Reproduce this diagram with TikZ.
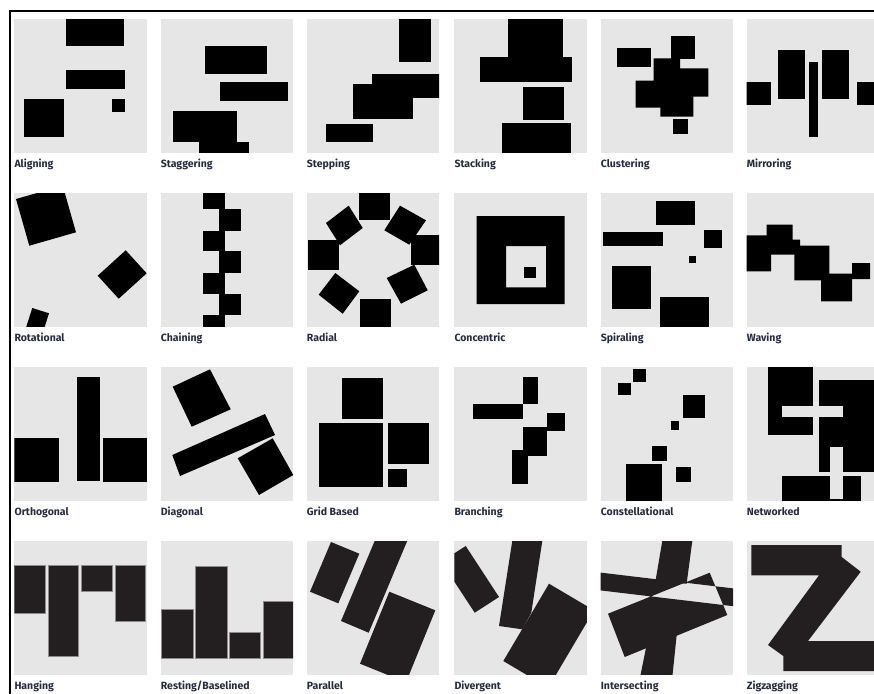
\documentclass[tikz,border=0pt]{standalone}
\usepackage{fontspec}
\setmainfont{Fira Sans}
\definecolor{panelbg}{RGB}{230,230,230}
\definecolor{darkink}{RGB}{35,31,32}
\definecolor{lblcol}{RGB}{38,44,62}
\tikzset{
  bg/.style={fill=panelbg},
  blk/.style={fill=black},
  dk/.style={fill=darkink},
  dkbox/.style={fill=darkink, draw=black!45, line width=0.5pt},
  lbl/.style={anchor=base west, inner sep=0pt, text=lblcol, font=\bfseries\fontsize{10.5}{12}\selectfont},
}
\newcommand\pnl[2]{\fill[bg] (#1,#2) rectangle ++(132.5,133.4); \clip (#1,#2) rectangle ++(132.5,133.4);}
\begin{document}
\begin{tikzpicture}[x=1pt,y=-1pt]
\useasboundingbox (0,0) rectangle (874,693);
\clip (0,0) rectangle (874,693);
\fill[white] (0,0) rectangle (874,693);
\draw[line width=2pt] (9.7,694) -- (9.7,10.7) -- (875,10.7);

% ---------------- Row 1 ----------------
\begin{scope}\pnl{14.3}{19.3}
 \fill[blk] (65.7,19.3) rectangle (123.7,45.7);
 \fill[blk] (65.7,70) rectangle (125,89.3);
 \fill[blk] (24.3,99.3) rectangle (63.7,137.3);
 \fill[blk] (112.3,99.3) rectangle (125.3,112.3);
\end{scope}
\begin{scope}\pnl{160.7}{19.3}
 \fill[blk] (205,45.7) rectangle (267,74);
 \fill[blk] (220.3,82) rectangle (288.3,101.3);
 \fill[blk] (172.7,111.3) rectangle (236.7,142);
 \fill[blk] (198.7,141.5) rectangle (249,154);
\end{scope}
\begin{scope}\pnl{306.7}{19.3}
 \fill[blk] (398.7,18) rectangle (430.7,62.3);
 \fill[blk] (372.3,74) rectangle (442,97.7);
 \fill[blk] (353,84) rectangle (413.3,118.7);
 \fill[blk] (325.7,123.7) rectangle (372.7,141.7);
\end{scope}
\begin{scope}\pnl{454.3}{19.3}
 \fill[blk] (508.3,18) rectangle (563.3,57);
 \fill[blk] (480.3,56.7) rectangle (572,82.3);
 \fill[blk] (523,87.3) rectangle (564.3,120.3);
 \fill[blk] (502,122.7) rectangle (571,154);
\end{scope}
\begin{scope}\pnl{600.7}{19.3}
 \fill[blk] (616.7,48.3) rectangle (650.7,67);
 \fill[blk] (671.3,36.3) rectangle (695,58.7);
 \fill[blk] (653.7,58.3) -- (680,58.3) -- (680,68.3) -- (708.3,68.3) -- (708.3,96.7)
   -- (693.3,96.7) -- (693.3,116.7) -- (660.3,116.7) -- (660.3,107.7) -- (635.7,107.7)
   -- (635.7,80.7) -- (653.7,80.7) -- cycle;
 \fill[blk] (672.7,118.7) rectangle (688.3,134.3);
\end{scope}
\begin{scope}\pnl{746.7}{19.3}
 \fill[blk] (745,82.3) rectangle (771,105.3);
 \fill[blk] (778.3,49.7) rectangle (805.3,98.7);
 \fill[blk] (809.3,62) rectangle (818,136.7);
 \fill[blk] (822.3,49.7) rectangle (849.3,98.7);
 \fill[blk] (856.7,82.3) rectangle (882,105.3);
\end{scope}
\node[lbl] (l1) at (14.3,167.5) {Aligning};
\node[lbl] (l2) at (160.7,167.5) {Staggering};
\node[lbl] (l3) at (306.7,167.5) {Stepping};
\node[lbl] (l4) at (454.3,167.5) {Stacking};
\node[lbl] (l5) at (600.7,167.5) {Clustering};
\node[lbl] (l6) at (746.7,167.5) {Mirroring};

% ---------------- Row 2 ----------------
\begin{scope}\pnl{14.3}{193.3}
 \fill[blk] (62.7,185.7) -- (76,232.3) -- (29.3,245.7) -- (16,199) -- cycle;
 \fill[blk] (97.7,275.7) -- (125.7,250.3) -- (146.7,273.3) -- (118.7,298.7) -- cycle;
 \fill[blk] (32.3,308) -- (49,313.3) -- (43,332) -- (26.3,326.7) -- cycle;
\end{scope}
\begin{scope}\pnl{160.7}{193.3}
 \fill[blk] (203.3,192) rectangle (224.7,209.3);
 \fill[blk] (203.3,231.3) rectangle (224.7,251.3);
 \fill[blk] (203.3,272.7) rectangle (224.7,294);
 \fill[blk] (203.3,315) rectangle (224.7,328);
 \fill[blk] (219.3,209.3) rectangle (240.7,231.3);
 \fill[blk] (219.3,251.3) rectangle (240.7,272.7);
 \fill[blk] (219.3,294) rectangle (240.7,315);
\end{scope}
\begin{scope}\pnl{306.7}{193.3}
 \fill[blk] (359.3,192) rectangle (390,220.3);
 \fill[blk] (326,223) -- (348.7,205.7) -- (362.7,228) -- (340,245.3) -- cycle;
 \fill[blk] (384.3,230.3) -- (400,205.7) -- (426,220.3) -- (409.3,244.7) -- cycle;
 \fill[blk] (307.7,239.7) rectangle (338.7,270.3);
 \fill[blk] (411,234.7) rectangle (441,264.7);
 \fill[blk] (318.7,294.7) -- (335.3,273) -- (359.3,291.3) -- (342.7,313.7) -- cycle;
 \fill[blk] (386.7,278) -- (414.3,264.7) -- (427.7,290.3) -- (401,303.7) -- cycle;
 \fill[blk] (360,299) rectangle (390.7,328);
\end{scope}
\begin{scope}\pnl{454.3}{193.3}
 \fill[blk, even odd rule] (476.7,216) rectangle (564.7,304) (506,246) rectangle (546,287.3);
 \fill[blk] (524,266.7) rectangle (535.7,278.3);
\end{scope}
\begin{scope}\pnl{600.7}{193.3}
 \fill[blk] (656,201) rectangle (695.3,225);
 \fill[blk] (603.3,232.3) rectangle (662.7,246.3);
 \fill[blk] (704,229.7) rectangle (722,248.3);
 \fill[blk] (688.7,255.7) rectangle (695.7,262.7);
 \fill[blk] (612,266) rectangle (651.3,309);
 \fill[blk] (660.3,297.3) rectangle (709.3,328);
\end{scope}
\begin{scope}\pnl{746.7}{193.3}
 \fill[blk] (745,235.3) -- (766.7,235.3) -- (766.7,224.7) -- (792.7,224.7) -- (792.7,239.7)
   -- (800,239.7) -- (800,245.7) -- (829.3,245.7) -- (829.3,273.7) -- (852,273.7)
   -- (852,263) -- (870,263) -- (870,279) -- (852,279) -- (852,301.3) -- (821,301.3)
   -- (821,280.3) -- (794.3,280.3) -- (794.3,254.7) -- (771,254.7) -- (771,271.3)
   -- (745,271.3) -- cycle;
\end{scope}
\node[lbl] (l7) at (14.3,341.7) {Rotational};
\node[lbl] (l8) at (160.7,341.7) {Chaining};
\node[lbl] (l9) at (306.7,341.7) {Radial};
\node[lbl] (l10) at (454.3,341.7) {Concentric};
\node[lbl] (l11) at (600.7,341.7) {Spiraling};
\node[lbl] (l12) at (746.7,341.7) {Waving};

% ---------------- Row 3 ----------------
\begin{scope}\pnl{14.3}{367.3}
 \fill[blk] (13,437.7) rectangle (59.3,482.3);
 \fill[blk] (77,377.3) rectangle (100,481);
 \fill[blk] (103.3,437.7) rectangle (148,482.3);
\end{scope}
\begin{scope}\pnl{160.7}{367.3}
 \fill[blk] (172.7,386.7) -- (210,369.3) -- (230.7,409.3) -- (191.7,426.7) -- cycle;
 \fill[blk] (172.3,455) -- (265,414) -- (275,435) -- (180,476) -- cycle;
 \fill[blk] (237.7,458.3) -- (272.7,438.3) -- (293.3,475) -- (259,495) -- cycle;
\end{scope}
\begin{scope}\pnl{306.7}{367.3}
 \fill[blk] (342.3,378.3) rectangle (383.3,419.3);
 \fill[blk] (319.3,423.3) rectangle (383.3,487.3);
 \fill[blk] (387.7,423.3) rectangle (429,464.3);
 \fill[blk] (387.7,468.7) rectangle (406.7,487.3);
\end{scope}
\begin{scope}\pnl{454.3}{367.3}
 \fill[blk] (522.7,377.3) rectangle (537.7,404);
 \fill[blk] (472.7,403.7) rectangle (523.3,419.3);
 \fill[blk] (547.3,413.3) rectangle (565.3,431.3);
 \fill[blk] (523.3,427.3) rectangle (547.3,456);
 \fill[blk] (512.3,449.7) rectangle (528,484.3);
\end{scope}
\begin{scope}\pnl{600.7}{367.3}
 \fill[blk] (633.3,369.3) rectangle (646,382.3);
 \fill[blk] (617.7,383) rectangle (631.3,394.7);
 \fill[blk] (683,395.3) rectangle (705,418);
 \fill[blk] (670.7,421.3) rectangle (679.3,430);
 \fill[blk] (652.3,446) rectangle (667.3,461);
 \fill[blk] (626,464.3) rectangle (662.3,502);
 \fill[blk] (676.3,467.3) rectangle (691,482.3);
\end{scope}
\begin{scope}\pnl{746.7}{367.3}
 \fill[blk] (768.3,366) rectangle (813,435);
 \fill[blk] (819,380) rectangle (882,471.7);
 \fill[blk] (782.3,475.7) rectangle (860.7,502);
 \fill[bg] (782.3,405.7) rectangle (843.3,416.7);
 \fill[bg] (830,447.3) rectangle (842.7,499);
\end{scope}
\node[lbl] (l13) at (14.3,515.5) {Orthogonal};
\node[lbl] (l14) at (160.7,515.5) {Diagonal};
\node[lbl] (l15) at (306.7,515.5) {Grid Based};
\node[lbl] (l16) at (454.3,515.5) {Branching};
\node[lbl] (l17) at (600.7,515.5) {Constellational};
\node[lbl] (l18) at (746.7,515.5) {Networked};

% ---------------- Row 4 ----------------
\begin{scope}\pnl{14.3}{541.3}
 \fill[dkbox] (13,565) rectangle (45.7,613.3);
 \fill[dkbox] (48.3,565) rectangle (78.3,656.7);
 \fill[dkbox] (81.7,565) rectangle (112.3,591.3);
 \fill[dkbox] (115.3,565) rectangle (145.7,621.7);
\end{scope}
\begin{scope}\pnl{160.7}{541.3}
 \fill[dkbox] (161.7,609.3) rectangle (193,658.3);
 \fill[dkbox] (195.3,566) rectangle (227,658.3);
 \fill[dkbox] (229,632.3) rectangle (260.3,658.3);
 \fill[dkbox] (263,601) rectangle (294,658.3);
\end{scope}
\begin{scope}\pnl{306.7}{541.3}
 \fill[dk] (310,591.7) -- (331,542) -- (359.3,553.7) -- (338.3,603.3) -- cycle;
 \fill[dk] (341,621) -- (368.7,632.7) -- (411.8,530) -- (379.3,530) -- cycle;
 \fill[dk] (389.3,591.7) -- (435.3,610.3) -- (406,682.3) -- (360,663.7) -- cycle;
\end{scope}
\begin{scope}\pnl{454.3}{541.3}
 \fill[dk] (465.7,546) -- (499,597) -- (474.7,612.7) -- (441.3,561.7) -- cycle;
 \fill[dk] (513.2,535) -- (543.2,535) -- (531.3,612.7) -- (522.3,629.3) -- (499,626) -- cycle;
 \fill[dk] (549,583.7) -- (594,610.3) -- (548.3,687.7) -- (503.3,661) -- cycle;
\end{scope}
\begin{scope}\pnl{600.7}{541.3}
 \fill[dk, even odd rule] (598,572.3) -- (740,589.2) -- (740,607) -- (598,590.1) -- cycle
   (608,613.7) -- (709.7,572.7) -- (727.3,615) -- (624.7,657) -- cycle;
 \fill[dk] (663.3,535) -- (693.1,535) -- (686.6,583.8) -- (655.6,580.2) -- cycle;
 \fill[dk] (648.4,636) -- (677,632) -- (672,680) -- (639.5,680) -- cycle;
\end{scope}
\begin{scope}\pnl{746.7}{541.3}
 \fill[dk] (751.3,545) -- (841.7,545) -- (841.7,557) -- (860.7,571.7) -- (808,641)
   -- (882,641) -- (882,671) -- (783.3,671) -- (783.3,656) -- (768,645) -- (819,575.3)
   -- (751.3,575.3) -- cycle;
\end{scope}
\node[lbl] (l19) at (14.3,689.3) {Hanging};
\node[lbl] (l20) at (160.7,689.3) {Resting/Baselined};
\node[lbl] (l21) at (306.7,689.3) {Parallel};
\node[lbl] (l22) at (454.3,689.3) {Divergent};
\node[lbl] (l23) at (600.7,689.3) {Intersecting};
\node[lbl] (l24) at (746.7,689.3) {Zigzagging};
\end{tikzpicture}
\end{document}
